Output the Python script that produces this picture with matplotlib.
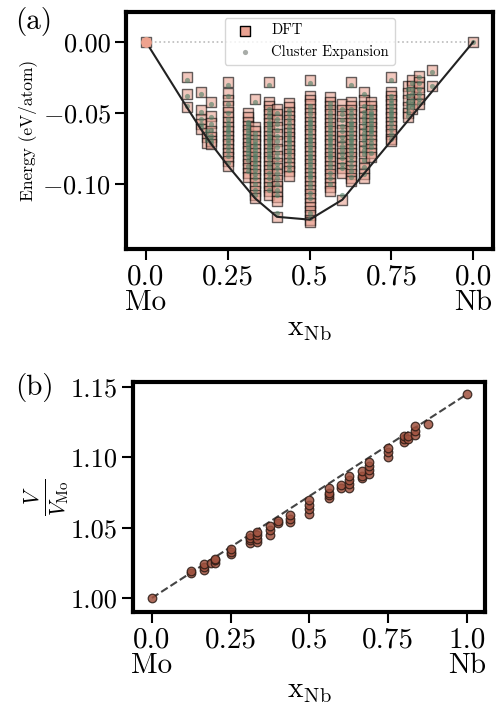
import matplotlib
matplotlib.use("Agg")
import matplotlib.pyplot as plt

plt.rcParams['font.family'] = 'serif'
plt.rcParams['font.serif'] = ['cmr10']
plt.rcParams['mathtext.fontset'] = 'cm'
plt.rcParams['axes.formatter.use_mathtext'] = True
plt.rcParams['axes.unicode_minus'] = False

# ---------------- data: panel (a) ----------------
comps = [0.0, 0.125, 0.1667, 0.1875, 0.2, 0.25, 0.3125, 0.3333, 0.375, 0.4, 0.4375,
         0.5, 0.5625, 0.6, 0.625, 0.6667, 0.6875, 0.75, 0.8, 0.8125, 0.8333, 0.875, 1.0]

dft_energy = [
    [0.0],
    [-0.025, -0.037, -0.046],
    [-0.035, -0.048, -0.054, -0.058, -0.061],
    [-0.064, -0.067, -0.071],
    [-0.042, -0.052, -0.057, -0.063, -0.067, -0.070, -0.072],
    [-0.028, -0.036, -0.041, -0.045, -0.049, -0.053, -0.056, -0.060, -0.063, -0.066, -0.069, -0.072, -0.075, -0.078, -0.081, -0.084, -0.087],
    [-0.050, -0.053, -0.056, -0.059, -0.062, -0.065, -0.068, -0.071, -0.074, -0.077, -0.080, -0.083, -0.086, -0.089, -0.092, -0.095],
    [-0.040, -0.060, -0.063, -0.066, -0.069, -0.072, -0.075, -0.078, -0.081, -0.084, -0.087, -0.090, -0.093, -0.096, -0.099, -0.102, -0.105, -0.108, -0.110],
    [-0.028, -0.042, -0.045, -0.048, -0.051, -0.054, -0.057, -0.060, -0.063, -0.066, -0.069, -0.072, -0.075, -0.078, -0.081, -0.084, -0.087, -0.090, -0.093, -0.096, -0.099, -0.102, -0.105, -0.108],
    [-0.047, -0.051, -0.055, -0.060, -0.065, -0.070, -0.075, -0.080, -0.085, -0.089, -0.093, -0.097, -0.101, -0.105, -0.109, -0.112, -0.123],
    [-0.043, -0.046, -0.049, -0.052, -0.055, -0.058, -0.061, -0.064, -0.067, -0.070, -0.073, -0.076, -0.079, -0.082, -0.085, -0.088, -0.091, -0.094],
    [-0.027, -0.038, -0.041, -0.044, -0.047, -0.050, -0.053, -0.056, -0.059, -0.062, -0.065, -0.068, -0.071, -0.074, -0.077, -0.080, -0.083, -0.086, -0.089, -0.092, -0.095, -0.098, -0.101, -0.104, -0.107, -0.110, -0.113, -0.116, -0.119, -0.122, -0.125, -0.127],
    [-0.039, -0.042, -0.045, -0.048, -0.051, -0.054, -0.057, -0.060, -0.063, -0.066, -0.069, -0.072, -0.075, -0.078, -0.081, -0.084, -0.087, -0.090, -0.093, -0.096, -0.099, -0.102, -0.105],
    [-0.044, -0.048, -0.052, -0.057, -0.062, -0.066, -0.070, -0.074, -0.078, -0.082, -0.085, -0.089, -0.092, -0.111],
    [-0.028, -0.042, -0.045, -0.048, -0.051, -0.054, -0.057, -0.060, -0.063, -0.066, -0.069, -0.072, -0.075, -0.078, -0.081, -0.084, -0.087, -0.090, -0.093, -0.096, -0.098],
    [-0.035, -0.041, -0.045, -0.049, -0.053, -0.057, -0.061, -0.065, -0.069, -0.073, -0.077, -0.081, -0.085, -0.089, -0.093, -0.096],
    [-0.042, -0.045, -0.048, -0.051, -0.054, -0.057, -0.060, -0.063, -0.066, -0.069, -0.072, -0.075, -0.078, -0.081],
    [-0.025, -0.035, -0.038, -0.041, -0.044, -0.047, -0.050, -0.053, -0.056, -0.059, -0.062, -0.065, -0.068, -0.070],
    [-0.031, -0.036, -0.041, -0.046, -0.050, -0.053],
    [-0.027, -0.031, -0.035, -0.040, -0.044, -0.047],
    [-0.024, -0.028, -0.032, -0.036, -0.040, -0.044],
    [-0.020, -0.031],
    [0.0],
]

ce_energy = [
    [0.002],
    [-0.027, -0.038, -0.045],
    [-0.037, -0.049, -0.054, -0.058, -0.060],
    [-0.063, -0.066, -0.069],
    [-0.044, -0.053, -0.058, -0.062, -0.066, -0.069, -0.071],
    [-0.030, -0.038, -0.044, -0.050, -0.054, -0.057, -0.059, -0.061, -0.063, -0.065, -0.067, -0.069, -0.071, -0.074, -0.077, -0.080, -0.085],
    [-0.056, -0.058, -0.060, -0.062, -0.064, -0.066, -0.068, -0.070, -0.072, -0.074, -0.076, -0.078, -0.080, -0.083, -0.087, -0.091],
    [-0.042, -0.064, -0.067, -0.070, -0.072, -0.074, -0.076, -0.078, -0.080, -0.082, -0.084, -0.086, -0.088, -0.090, -0.093, -0.096, -0.100, -0.104, -0.108],
    [-0.030, -0.047, -0.050, -0.053, -0.056, -0.058, -0.060, -0.062, -0.064, -0.066, -0.068, -0.070, -0.072, -0.074, -0.076, -0.078, -0.080, -0.082, -0.085, -0.088, -0.092, -0.096, -0.100, -0.104],
    [-0.050, -0.054, -0.058, -0.062, -0.066, -0.070, -0.074, -0.078, -0.082, -0.086, -0.089, -0.092, -0.096, -0.100, -0.104, -0.108, -0.120],
    [-0.048, -0.051, -0.054, -0.057, -0.060, -0.062, -0.064, -0.066, -0.068, -0.070, -0.072, -0.074, -0.076, -0.078, -0.081, -0.084, -0.087, -0.090],
    [-0.029, -0.045, -0.048, -0.051, -0.054, -0.056, -0.058, -0.060, -0.062, -0.064, -0.066, -0.068, -0.070, -0.072, -0.074, -0.076, -0.078, -0.080, -0.082, -0.084, -0.086, -0.088, -0.090, -0.092, -0.094, -0.096, -0.099, -0.102, -0.106, -0.110, -0.120, -0.124],
    [-0.043, -0.046, -0.049, -0.052, -0.055, -0.058, -0.060, -0.062, -0.064, -0.066, -0.068, -0.070, -0.072, -0.074, -0.076, -0.078, -0.080, -0.082, -0.085, -0.088, -0.092, -0.096, -0.100],
    [-0.047, -0.051, -0.055, -0.059, -0.063, -0.067, -0.070, -0.073, -0.076, -0.079, -0.082, -0.086, -0.089, -0.108],
    [-0.030, -0.047, -0.050, -0.053, -0.056, -0.058, -0.060, -0.062, -0.064, -0.066, -0.068, -0.070, -0.072, -0.074, -0.076, -0.078, -0.081, -0.084, -0.087, -0.091, -0.095],
    [-0.037, -0.045, -0.049, -0.052, -0.055, -0.058, -0.061, -0.064, -0.067, -0.070, -0.073, -0.076, -0.079, -0.083, -0.088, -0.093],
    [-0.046, -0.049, -0.051, -0.053, -0.055, -0.057, -0.059, -0.061, -0.063, -0.065, -0.068, -0.071, -0.074, -0.078],
    [-0.027, -0.038, -0.041, -0.043, -0.045, -0.047, -0.049, -0.051, -0.053, -0.055, -0.058, -0.061, -0.065, -0.068],
    [-0.033, -0.038, -0.042, -0.046, -0.049, -0.052],
    [-0.029, -0.033, -0.037, -0.041, -0.044, -0.046],
    [-0.025, -0.029, -0.033, -0.037, -0.040, -0.043],
    [-0.021, -0.031],
    [0.0],
]

hull_x = [0.0, 0.125, 0.1667, 0.2, 0.25, 0.3333, 0.4, 0.5, 0.6, 1.0]
hull_e = [0.0, -0.046, -0.061, -0.072, -0.087, -0.110, -0.123, -0.125, -0.111, 0.0]

xticks_a = [0.0, 0.25, 0.5, 0.75, 1.0]
xticklabels_a = ['0.0\nMo', '0.25', '0.5', '0.75', '0.0\nNb']
yticks_a = [0.0, -0.05, -0.10]
yticklabels_a = ['0.00', '$-$0.05', '$-$0.10']

# ---------------- data: panel (b) ----------------
vol_x = [0.0,
         0.125, 0.125,
         0.1667, 0.1667, 0.1667,
         0.1875,
         0.2, 0.2, 0.2,
         0.25, 0.25, 0.25,
         0.3125, 0.3125, 0.3125, 0.3125,
         0.3333, 0.3333, 0.3333, 0.3333,
         0.375, 0.375, 0.375,
         0.4, 0.4,
         0.4375, 0.4375, 0.4375,
         0.5, 0.5, 0.5, 0.5,
         0.5625, 0.5625, 0.5625, 0.5625,
         0.6, 0.6,
         0.625, 0.625, 0.625, 0.625,
         0.6667, 0.6667, 0.6667,
         0.6875, 0.6875, 0.6875, 0.6875,
         0.75, 0.75, 0.75,
         0.8, 0.8, 0.8,
         0.8125, 0.8125,
         0.8333, 0.8333, 0.8333,
         0.875,
         1.0]
vol_ratio = [1.000,
             1.0175, 1.019,
             1.020, 1.022, 1.024,
             1.025,
             1.025, 1.027, 1.028,
             1.031, 1.033, 1.035,
             1.039, 1.041, 1.043, 1.045,
             1.040, 1.042, 1.045, 1.047,
             1.045, 1.048, 1.051,
             1.053, 1.055,
             1.054, 1.056, 1.059,
             1.060, 1.063, 1.066, 1.070,
             1.071, 1.073, 1.075, 1.078,
             1.078, 1.080,
             1.078, 1.081, 1.084, 1.087,
             1.085, 1.087, 1.090,
             1.088, 1.091, 1.094, 1.097,
             1.100, 1.104, 1.107,
             1.111, 1.113, 1.115,
             1.113, 1.115,
             1.116, 1.119, 1.122,
             1.124,
             1.145]
vegard_x = [0.0, 1.0]
vegard_y = [1.0, 1.145]

xticks_b = [0.0, 0.25, 0.5, 0.75, 1.0]
xticklabels_b = ['0.0\nMo', '0.25', '0.5', '0.75', '1.0\nNb']
yticks_b = [1.00, 1.05, 1.10, 1.15]
yticklabels_b = ['1.00', '1.05', '1.10', '1.15']

# ---------------- figure ----------------
fig = plt.figure(figsize=(5.01, 7.06), dpi=100)
ax1 = fig.add_axes([0.2515, 0.647, 0.733, 0.336])
ax2 = fig.add_axes([0.2655, 0.1331, 0.7026, 0.3258])

# panel (a)
ax1.plot([0.0, 1.0], [0.0, 0.0], ls=':', color='#bbbbbb', lw=1.2, zorder=1)
dx, de, cx, ce = [], [], [], []
for c, el, cl in zip(comps, dft_energy, ce_energy):
    dx += [c] * len(el)
    de += el
    cx += [c] * len(cl)
    ce += cl
ax1.scatter(dx, de, marker='s', s=55, facecolor='#e9a292', edgecolor='black',
            linewidth=1.0, alpha=0.6, zorder=2, label='DFT')
ax1.scatter(cx, ce, marker='o', s=14, color='#4f7f66', alpha=0.6,
            linewidth=0, zorder=3, label='Cluster Expansion')
ax1.plot(hull_x, hull_e, color='#222222', lw=1.5, zorder=4)
ax1.scatter([0.0], [0.0], s=45, color='#eea28e', zorder=5)
ax1.set_xlim(-0.061, 1.061)
ax1.set_ylim(-0.1458, 0.021)
ax1.set_xticks(xticks_a)
ax1.set_xticklabels(xticklabels_a, fontsize=21, linespacing=0.95)
ax1.set_yticks(yticks_a)
ax1.set_yticklabels(yticklabels_a, fontsize=19)
ax1.set_ylabel('Energy (eV/atom)', fontsize=12.5, labelpad=4)
ax1.set_xlabel(r'$\mathrm{x_{Nb}}$', fontsize=21, labelpad=0)
leg = ax1.legend(loc='upper center', fontsize=10.5, frameon=True, framealpha=0.8,
                 borderaxespad=0.4, handletextpad=0.8, markerscale=1.0)
for lh in leg.legend_handles:
    lh.set_alpha(1)
leg.legend_handles[1].set_color('#a8aca8')

# panel (b)
ax2.plot(vegard_x, vegard_y, ls='--', color='#444444', lw=1.5, zorder=1)
ax2.scatter(vol_x, vol_ratio, s=38, facecolor='#a0523f', edgecolor='#2a1a14',
            linewidth=0.9, alpha=0.85, zorder=2)
ax2.set_xlim(-0.06, 1.057)
ax2.set_ylim(0.990, 1.1536)
ax2.set_xticks(xticks_b)
ax2.set_xticklabels(xticklabels_b, fontsize=21, linespacing=0.95)
ax2.set_yticks(yticks_b)
ax2.set_yticklabels(yticklabels_b, fontsize=19)
ax2.set_ylabel(r'$\frac{V}{V_{\mathrm{Mo}}}$', fontsize=22, labelpad=0)
ax2.set_xlabel(r'$\mathrm{x_{Nb}}$', fontsize=21, labelpad=0)

for ax in (ax1, ax2):
    for sp in ax.spines.values():
        sp.set_linewidth(3.0)
        sp.set_color('black')
    ax.tick_params(axis='both', direction='out', length=8, width=1.5, pad=3)

fig.text(0.03, 0.99, '(a)', fontsize=21, ha='left', va='top')
fig.text(0.03, 0.472, '(b)', fontsize=21, ha='left', va='top')

fig.savefig('out.png', dpi=100)
